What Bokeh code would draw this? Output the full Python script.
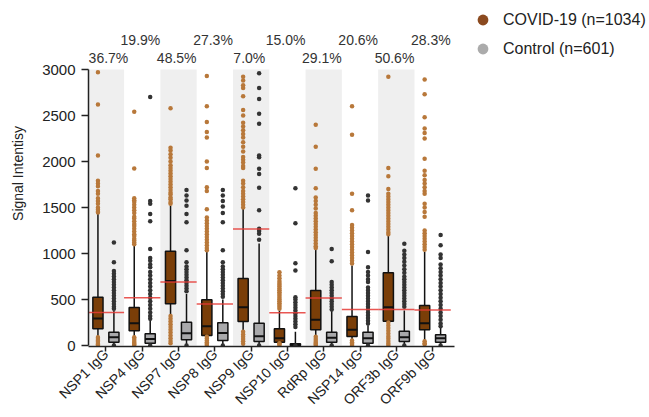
import numpy as np
from bokeh.plotting import figure
from bokeh.models import Range1d, FixedTicker, Legend, LegendItem
from bokeh.embed import file_html
from bokeh.resources import INLINE
from bokeh.core.properties import value

# ---------------- data ----------------
groups = ["NSP1 IgG", "NSP4 IgG", "NSP7 IgG", "NSP8 IgG", "NSP9 IgG",
          "NSP10 IgG", "RdRp IgG", "NSP14 IgG", "ORF3b IgG", "ORF9b IgG"]
positive_pct = ["36.7%", "19.9%", "48.5%", "27.3%", "7.0%",
                "15.0%", "29.1%", "20.6%", "50.6%", "28.3%"]
cutoff = [360, 520, 690, 450, 1265, 355, 515, 390, 392, 385]

covid_q1 = [181, 160, 453, 109, 261, 36, 170, 98, 264, 170]
covid_med = [293, 243, 700, 210, 417, 80, 279, 170, 417, 243]
covid_q3 = [525, 412, 1025, 497, 728, 181, 598, 315, 790, 435]
covid_whisk_hi = [1430, 1085, 1520, 1015, 1485, 380, 1050, 870, 1196, 1015]
covid_whisk_lo = [5, 5, 5, 5, 5, 0, 5, 5, 5, 5]

control_q1 = [36, 25, 62, 54, 43, 0, 36, 25, 43, 36]
control_med = [90, 72, 134, 137, 101, 5, 83, 80, 90, 80]
control_q3 = [145, 127, 254, 246, 243, 18, 145, 145, 156, 116]
control_whisk_hi = [380, 280, 560, 500, 1110, 150, 380, 220, 380, 200]
control_whisk_lo = [0, 0, 0, 0, 0, 0, 0, 0, 0, 0]

covid_outliers = [
    [2971, 2620, 2065, 1790, 1760, 1730, 1680, 1650, 1600, 1570, 1540, 1500, 1480, 1460, 1445,
     90, 70, 55, 40, 25, 12, 5],
    [2540, 1925, 1600, 1580, 1560, 1530, 1500, 1470, 1440, 1400, 1380, 1350, 1320, 1300, 1270,
     1240, 1210, 1190, 1160, 1140, 1120, 1100, 90, 70, 50, 30, 15, 5],
    [2580, 2150, 2120, 2080, 2040, 2000, 1960, 1930, 1900, 1870, 1840, 1810, 1780, 1750, 1720,
     1690, 1660, 1640, 1610, 1590, 1560, 1540, 320, 290, 260, 230, 200, 170, 140, 110, 80, 50, 25],
    [2930, 2600, 2430, 2320, 2260, 2000, 1930, 1720, 1680, 1480, 1390, 1360, 1330, 1300, 1270,
     1240, 1210, 1180, 1150, 1120, 1090, 1060, 1035, 95, 75, 55, 35, 20, 5],
    [2920, 2880, 2830, 2800, 2710, 2560, 2500, 2420, 2380, 2340, 2300, 2260, 2210, 2160, 2110,
     2050, 2020, 1990, 1950, 1930, 1790, 1760, 1720, 1680, 1650, 1620, 1590, 1560, 1530, 1500,
     150, 120, 95, 70, 45, 20],
    [795, 760, 730, 700, 680, 660, 640, 620, 600, 580, 560, 540, 520, 500, 480, 460, 440, 420, 400,
     25, 15, 5],
    [2400, 2160, 1920, 1710, 1610, 1570, 1530, 1490, 1440, 1410, 1380, 1350, 1320, 1290, 1260,
     1230, 1200, 1170, 1140, 1110, 1080, 1060, 95, 70, 50, 30, 15, 5],
    [2600, 2290, 1650, 1470, 1310, 1280, 1250, 1220, 1190, 1160, 1130, 1100, 1070, 1040, 1010,
     980, 950, 920, 890, 55, 35, 20, 5],
    [2920, 1930, 1840, 1700, 1650, 1620, 1590, 1560, 1530, 1500, 1470, 1440, 1410, 1380, 1350,
     1320, 1290, 1260, 1230, 1210, 250, 220, 190, 160, 130, 100, 75, 50, 25, 5],
    [2890, 2730, 2480, 2360, 2310, 2250, 2030, 1900, 1850, 1800, 1760, 1720, 1680, 1650, 1540,
     1500, 1450, 1400, 1250, 1220, 1190, 1160, 1130, 1100, 1070, 1040, 45, 25, 10],
]

control_outliers = [
    [1120, 905, 810, 780, 750, 720, 690, 660, 630, 600, 570, 540, 510, 480, 450, 420, 400, 0],
    [2700, 1570, 1540, 1430, 1350, 1050, 950, 920, 880, 850, 800, 760, 720, 680, 640, 600, 560,
     520, 480, 440, 400, 360, 320, 290, 0],
    [1690, 1630, 1575, 1520, 1430, 1340, 1035, 905, 860, 830, 800, 770, 740, 710, 680, 650, 620,
     590, 0],
    [1690, 1630, 1570, 1510, 1440, 1340, 1035, 905, 860, 830, 800, 770, 740, 710, 680, 650, 620,
     590, 560, 530, 0],
    [2960, 2800, 2680, 2520, 2410, 2065, 2045, 1920, 1865, 1715, 1470, 1270, 1245, 1215, 1150, 0],
    [1710, 1330, 895, 815, 525, 500, 470, 440, 410, 380, 350, 320, 290, 260, 230, 200, 0],
    [1050, 915, 690, 660, 630, 600, 570, 540, 510, 480, 450, 420, 390, 0],
    [1630, 1575, 1015, 850, 800, 760, 720, 690, 630, 600, 570, 540, 510, 480, 450, 420, 390, 360,
     330, 300, 270, 240, 0],
    [1105, 1030, 990, 950, 910, 870, 830, 790, 750, 720, 690, 660, 630, 600, 570, 540, 510, 480,
     450, 420, 0],
    [1200, 1090, 990, 950, 880, 840, 800, 760, 720, 680, 640, 600, 560, 520, 480, 440, 400, 360,
     320, 280, 240, 210, 0],
]

y_ticks = [0, 500, 1000, 1500, 2000, 2500, 3000]
legend_labels = ["COVID-19 (n=1034)", "Control (n=601)"]

# ---------------- layout / style ----------------
FONT = "Liberation Sans"
W, H = 649, 417
LEFT, BOTTOM = 88, 71
frame_w, frame_h = W - LEFT, H - BOTTOM
PX_X, PX_Y = 36.3, 0.092
X0 = -0.48
Y0 = -1.0 / PX_Y

COVID_BOX = "#7a3e08"
CTRL_BOX = "#a9a9ab"
COVID_DOT = "#b8783a"
CTRL_DOT = "#333333"
BAND = "#efefef"
RED = "#e53935"
OFF = 0.22
BW = 0.28

p = figure(width=W, height=H, output_backend="svg", toolbar_location=None,
           x_range=Range1d(X0, X0 + frame_w / PX_X),
           y_range=Range1d(Y0, Y0 + frame_h / PX_Y),
           min_border_left=LEFT, min_border_bottom=BOTTOM,
           min_border_top=0, min_border_right=0)
p.outline_line_color = None
p.grid.visible = False

n = len(groups)
xs = np.arange(n, dtype=float)

# alternating shaded bands
band_idx = xs[::2]
p.quad(left=band_idx - 0.5, right=band_idx + 0.5, bottom=0, top=y_ticks[-1],
       fill_color=BAND, line_color=None)

cx = xs - OFF
kx = xs + OFF

# whiskers
for bx, lo, q1, q3, hi in [(cx, covid_whisk_lo, covid_q1, covid_q3, covid_whisk_hi),
                           (kx, control_whisk_lo, control_q1, control_q3, control_whisk_hi)]:
    p.segment(x0=bx, x1=bx, y0=q3, y1=hi, line_color="#111111", line_width=1.5)
    p.segment(x0=bx, x1=bx, y0=lo, y1=q1, line_color="#111111", line_width=1.5)

# boxes
p.vbar(x=cx, width=BW, bottom=covid_q1, top=covid_q3, fill_color=COVID_BOX,
       line_color="#111111", line_width=1.5)
p.vbar(x=kx, width=BW, bottom=control_q1, top=control_q3, fill_color=CTRL_BOX,
       line_color="#111111", line_width=1.5)
p.segment(x0=cx - BW / 2, x1=cx + BW / 2, y0=covid_med, y1=covid_med,
          line_color="#111111", line_width=2)
p.segment(x0=kx - BW / 2, x1=kx + BW / 2, y0=control_med, y1=control_med,
          line_color="#111111", line_width=2)

# outliers
def flatten(offset, lists):
    ox, oy = [], []
    for i, vals in enumerate(lists):
        ox += [i + offset] * len(vals)
        oy += vals
    return ox, oy

ox, oy = flatten(-OFF, covid_outliers)
p.scatter(x=ox, y=oy, marker="circle", size=4.5, fill_color=COVID_DOT, line_color=None)
ox, oy = flatten(OFF, control_outliers)
p.scatter(x=ox, y=oy, marker="circle", size=4.5, fill_color=CTRL_DOT, line_color=None)

# cutoff lines
p.segment(x0=xs - 0.5, x1=xs + 0.5, y0=cutoff, y1=cutoff, line_color=RED,
          line_width=1.5, line_alpha=0.85)

# percentage labels (two staggered rows)
pct_x = xs - 0.05
pct_x[0] = 0.07
pct_y = [(345 - 57) / PX_Y if i % 2 == 0 else (345 - 39) / PX_Y for i in range(n)]
p.text(x=pct_x, y=pct_y, text=positive_pct, text_align="center",
       text_baseline="middle", text_font=value(FONT), text_font_size="14px",
       text_color="#333333")

# axes
p.xaxis.ticker = FixedTicker(ticks=list(range(n)))
p.xaxis.major_label_overrides = {i: g for i, g in enumerate(groups)}
p.xaxis.major_label_orientation = np.pi / 4
p.xaxis.bounds = (X0, n - 0.4)
p.yaxis.ticker = FixedTicker(ticks=y_ticks)
p.yaxis.bounds = (0, y_ticks[-1])
p.yaxis.axis_label = "Signal Intentisy"
for ax in (p.xaxis, p.yaxis):
    ax.axis_line_color = "#222222"
    ax.axis_line_width = 1.5
    ax.major_tick_line_color = "#222222"
    ax.major_tick_line_width = 1.5
    ax.major_tick_in = 0
    ax.minor_tick_line_color = None
    ax.major_label_text_font = FONT
    ax.major_label_text_color = "#222222"
p.xaxis.major_tick_out = 5
p.xaxis.major_label_text_font_size = "14px"
p.xaxis.major_label_standoff = 0
p.yaxis.major_tick_out = 7
p.yaxis.major_label_text_font_size = "15px"
p.yaxis.major_label_standoff = 6
p.yaxis.axis_label_text_font = FONT
p.yaxis.axis_label_text_font_size = "14px"
p.yaxis.axis_label_text_font_style = "normal"
p.yaxis.axis_label_text_color = "#222222"
p.yaxis.axis_label_standoff = 13

# legend (glyph centres at page y 20 and 49); off-screen single point per swatch
r1 = p.scatter(x=[np.nan], y=[np.nan], marker="circle", size=11,
               fill_color="#8b4a1f", line_color=None)
r2 = p.scatter(x=[np.nan], y=[np.nan], marker="circle", size=11,
               fill_color="#ababab", line_color=None)
legend = Legend(items=[LegendItem(label=legend_labels[0], renderers=[r1]),
                       LegendItem(label=legend_labels[1], renderers=[r2])],
                location=(381, frame_h - 62), orientation="vertical",
                border_line_color=None, background_fill_alpha=0,
                padding=0, margin=0, spacing=2,
                glyph_width=27, glyph_height=27, label_height=27, label_standoff=7,
                label_text_font=FONT, label_text_font_size="16px",
                label_text_color="#222222")
p.add_layout(legend)

open("out.html", "w").write(file_html(p, INLINE))
